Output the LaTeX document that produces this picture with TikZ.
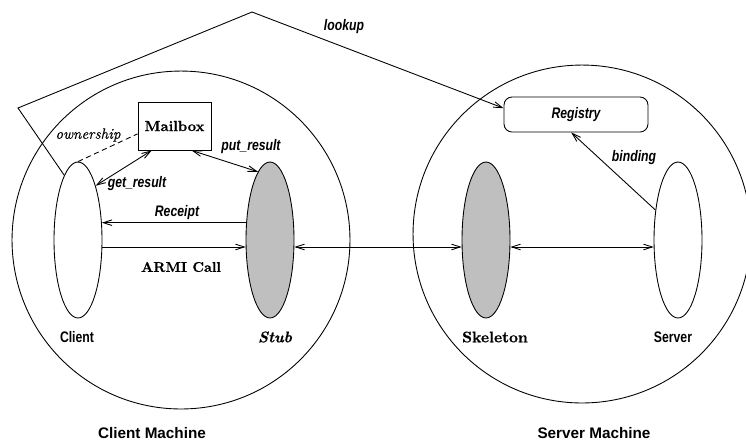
\documentclass[tikz,border=0pt]{standalone}
\usepackage{fontspec}
\newfontfamily\helv{Liberation Sans}
\newfontfamily\helvn[FakeStretch=0.8]{Liberation Sans}
\newfontfamily\cmbold[FakeBold=0.6]{lmroman10-bold.otf}
\newfontfamily\cmbolditalic[FakeBold=0.6]{lmroman10-bolditalic.otf}
\newfontfamily\cmitalic[FakeBold=0.3]{lmroman10-italic.otf}
\usetikzlibrary{arrows.meta,shapes.geometric}

\begin{document}
\begin{tikzpicture}[x=0.02cm,y=-0.02cm,line width=0.5pt,
        >={Straight Barb[length=5pt,width=3.2pt]},
        machine/.style={draw,circle,minimum size=6.76cm,inner sep=0pt},
        proc/.style={draw,ellipse,minimum width=0.96cm,minimum height=3.12cm,inner sep=0pt},
        big/.style={font=\fontsize{8.7}{10}\selectfont\helv\bfseries},
        narrow/.style={font=\fontsize{8.7}{10}\selectfont\helvn\bfseries},
        slanted/.style={font=\fontsize{8.7}{10}\selectfont\helvn\bfseries\itshape},
        roman/.style={font=\fontsize{8.3}{10}\selectfont\cmbold}]

        \useasboundingbox (0,0) rectangle (746,441);

        \node[machine] (clientm) at (181,240) {};
        \node[machine] (serverm) at (582,234) {};

        \node[proc] (client) at (78,240) {};
        \node[proc,fill=gray!50] (stub) at (270,240) {};
        \node[proc,fill=gray!50] (skeleton) at (486,240) {};
        \node[proc] (server) at (678,240) {};

        \node[draw,minimum width=1.46cm,minimum height=0.96cm,roman] (mailbox) at (174.5,126) {Mailbox};
        \node[draw,rounded corners=0.16cm,minimum width=2.88cm,minimum height=0.7cm,slanted] (registry) at (576,114.5) {Registry};

        \node[narrow] (clientlbl) at (77,337) {Client};
        \node[font=\fontsize{8.8}{10}\selectfont\cmbolditalic] (stublbl) at (275,337) {Stub};
        \node[roman,font=\fontsize{8.8}{10}\selectfont\cmbold] (skeletonlbl) at (495,337) {Skeleton};
        \node[narrow] (serverlbl) at (673,337) {Server};
        \node[big] (clientmlbl) at (152,433) {Client Machine};
        \node[big] (servermlbl) at (594,433) {Server Machine};

        \node[slanted] (lookuplbl) at (344,27) {lookup};
        \node[slanted] (getlbl) at (137,184) {get\_result};
        \node[slanted] (putlbl) at (251,147) {put\_result};
        \node[slanted] (receiptlbl) at (177,213) {Receipt};
        \node[roman,font=\fontsize{8}{10}\selectfont\cmbold] (armilbl) at (181,267) {ARMI Call};
        \node[slanted] (bindinglbl) at (634,158) {binding};
        \node[font=\fontsize{8.5}{10}\selectfont\cmitalic] (ownlbl) at (88,135) {ownership};

        \coordinate (bendA) at (18,108);
        \coordinate (bendB) at (252,12);

        \draw[dashed,dash pattern=on 3pt off 2pt] (client.north) -- (mailbox.192);
        \draw[<->] (client.72) -- (mailbox.227);
        \draw[<->] (mailbox.-55) -- (stub.100);
        \draw[->] (stub.144) -- (client.36);
        \draw[->] (client.-16) -- (stub.196);
        \draw[<->] (stub.-16) -- (skeleton.196);
        \draw[<->] (skeleton.-16) -- (server.196);
        \draw[->] (server.127) -- (registry.-105);
        \draw[->] (client.102) -- (bendA) -- (bendB) -- (registry.175);

\end{tikzpicture}
\end{document}
